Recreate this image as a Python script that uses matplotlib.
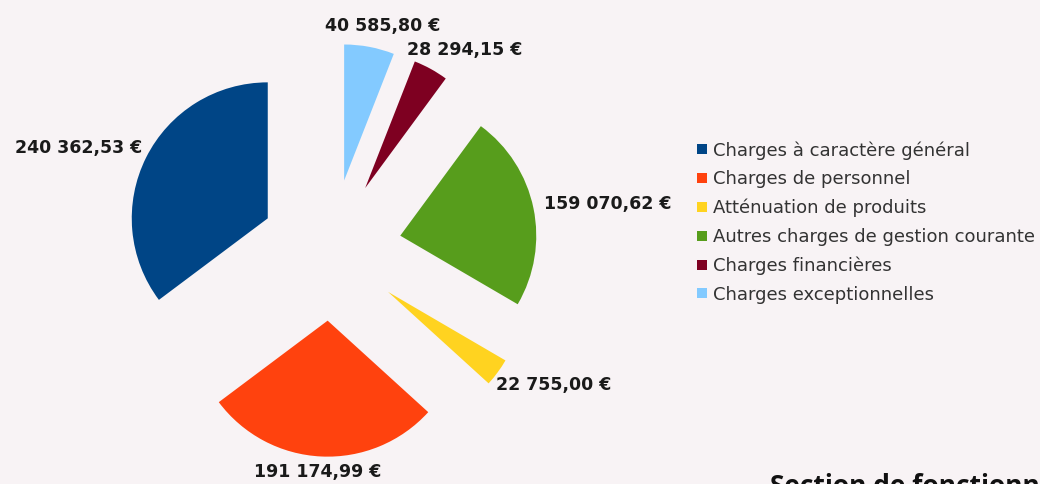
import matplotlib.pyplot as plt
from matplotlib.lines import Line2D
import numpy as np

# Dépenses de fonctionnement
categories = [
    "Charges à caractère général",
    "Charges de personnel",
    "Atténuation de produits",
    "Autres charges de gestion courante",
    "Charges financières",
    "Charges exceptionnelles",
]
amounts = [240362.53, 191174.99, 22755.00, 159070.62, 28294.15, 40585.80]
colors = ["#004586", "#ff420e", "#ffd320", "#579d1c", "#7e0021", "#83caff"]
caption = "Section de fonctionnement"

W, H = 1040, 484
bg = "#f8f3f5"


def euro(v):
    return f"{v:,.2f}".replace(",", " ").replace(".", ",") + " €"


fig = plt.figure(figsize=(W / 100, H / 100), dpi=100, facecolor=bg)
ax = fig.add_axes([0, 0, 1, 1])
ax.set_facecolor(bg)

expl = 0.52
wedges, _ = ax.pie(amounts, colors=colors, startangle=90, counterclock=True,
                   explode=[expl] * len(amounts), radius=1.0,
                   wedgeprops=dict(linewidth=0))

# pie centre at (331, 250) px, radius 136 px
r_px = 136.0
cx, cy = 331.0, 250.0
ax.set_xlim(-cx / r_px, (W - cx) / r_px)
ax.set_ylim(-(H - cy) / r_px, cy / r_px)
ax.set_aspect("auto")
ax.axis("off")

# value labels just outside each exploded slice
texts = []
for w, v in zip(wedges, amounts):
    t = ax.text(0, 0, euro(v), fontsize=12.5, fontweight="bold",
                color="#1a1a1a", ha="center", va="center")
    texts.append(t)
fig.canvas.draw()
renderer = fig.canvas.get_renderer()
gap = 0.09
ymin = ax.get_ylim()[0]
for w, t in zip(wedges, texts):
    mid = np.deg2rad((w.theta1 + w.theta2) / 2)
    bb = t.get_window_extent(renderer)
    hw = bb.width / 2 / r_px
    hh = bb.height / 2 / r_px
    d = expl + 1.0 + gap
    x = d * np.cos(mid) + hw * np.cos(mid)
    y = d * np.sin(mid) + hh * np.sin(mid)
    # keep the label inside the picture
    y = max(y, ymin + hh + 3 / r_px)
    t.set_position((x, y))

handles = [Line2D([], [], linestyle="none", marker="s", markersize=7.5,
                  markerfacecolor=c, markeredgewidth=0) for c in colors]
fig.legend(handles, categories, loc="upper left",
           bbox_to_anchor=(697 / W, 1 - 141 / H), bbox_transform=fig.transFigure,
           frameon=False, fontsize=13, labelcolor="#333333",
           handlelength=0.6, handletextpad=0.3, labelspacing=0.59,
           borderpad=0, borderaxespad=0)

fig.text(770 / W, -10 / H, caption, fontsize=19, fontweight="bold",
         family="Open Sans", color="#111111", ha="left", va="baseline")

fig.savefig("out.png", dpi=100, facecolor=bg)
